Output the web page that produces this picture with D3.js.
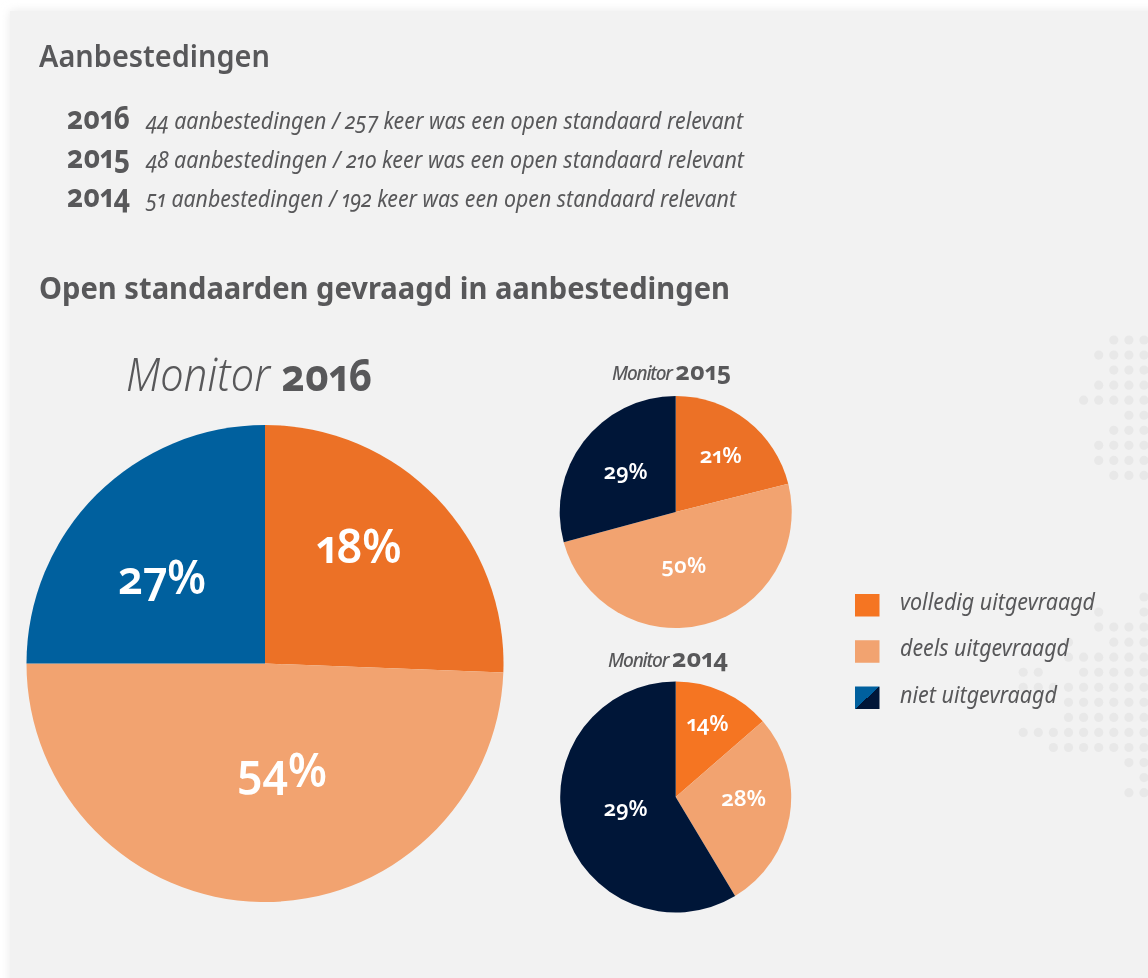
<!DOCTYPE html>
<html><head><meta charset="utf-8">
<script src="https://cdn.jsdelivr.net/npm/d3@7/dist/d3.min.js"></script>
<style>
html,body{margin:0;padding:0;background:#fff;overflow:hidden}
svg{display:block}
text{font-family:"Noto Sans",Lato,sans-serif;font-feature-settings:"onum","pnum";fill:#58585a}
</style></head><body><svg id="c" width="1148" height="978"></svg>
<script>
const categories = ["volledig uitgevraagd","deels uitgevraagd","niet uitgevraagd"];
const share2016 = [25.6,49.4,25.0];
const share2015 = [21.1,49.7,29.2];
const share2014 = [13.6,27.8,58.6];
const labels2016 = ["18%","54%","27%"];
const labels2015 = ["21%","50%","29%"];
const labels2014 = ["14%","28%","29%"];
const tenderYears = ["2016","2015","2014"];
const tenderText = ["44 aanbestedingen / 257 keer was een open standaard relevant","48 aanbestedingen / 210 keer was een open standaard relevant","51 aanbestedingen / 192 keer was een open standaard relevant"];
const dotRowsTop = [[5,6,7],[4,5,6,7],[5,6,7],[4,5,6,7],[3,4,5,6,7],[6,7],[5,6,7],[4,5,6,7],[4,5,6,7],[5,6,7]];
const dotRowsBottom = [[7],[4,7],[4,5,6,7],[2,5,6,7],[2,3,4,5,6,7],[-1,0,3,4,5,6,7],[-1,0,1,2,3,4,5,6,7],[2,3,4,5,6,7],[2,3,4,5,6,7],[-1,0,1,2,3,4,5,6,7],[1,2,3,4,5,6,7],[6,7],[7],[6,7]];

const svg = d3.select("#c");
const defs = svg.append("defs");
const f = defs.append("filter").attr("id","sh").attr("x","-5%").attr("y","-5%").attr("width","110%").attr("height","110%");
f.append("feGaussianBlur").attr("stdDeviation",5);
const soft = defs.append("filter").attr("id","soft");
soft.append("feGaussianBlur").attr("stdDeviation",0.35);
const g = defs.append("linearGradient").attr("id","split").attr("x1","0").attr("y1","0").attr("x2","1").attr("y2","1");
g.append("stop").attr("offset","50%").attr("stop-color","#02609e");
g.append("stop").attr("offset","50%").attr("stop-color","#001639");

svg.append("rect").attr("x",10).attr("y",11).attr("width",1300).attr("height",1200).attr("fill","#e9e9e9").attr("filter","url(#sh)");
svg.append("rect").attr("x",10).attr("y",11).attr("width",1138).attr("height",967).attr("fill","#f2f2f2");

// decorative dot map
const rowY = d3.scaleLinear().domain([0,1]).range([0,15.05]);
const colX = d3.scaleLinear().domain([7,0]).range([1144,1038.3]);
const dots = svg.append("g").attr("fill","#e8e8e8");
function dotBlock(rows,y0){rows.forEach((cols,i)=>cols.forEach(c=>{
  dots.append("circle").attr("cx",colX(c)).attr("cy",y0+rowY(i)).attr("r",4.6);
}));}
dotBlock(dotRowsTop,340);
dotBlock(dotRowsBottom,597);

const root = svg.append("g").attr("filter","url(#soft)");
function fit(sel,w){return sel.attr("textLength",w).attr("lengthAdjust","spacingAndGlyphs");}
function txt(x,y,s,size,weight,style,w){
  const t=root.append("text").attr("x",x).attr("y",y).text(s).attr("font-size",size).attr("font-weight",weight).attr("font-style",style||"normal");
  if(w) fit(t,w);
  return t;
}
function header(x,y,yr,w,mSize,mWeight,mTrack,ySize){
  const t=root.append("text").attr("x",x).attr("y",y);
  t.append("tspan").text("Monitor ").attr("font-size",mSize).attr("font-weight",mWeight).attr("font-style","italic").attr("letter-spacing",mTrack);
  t.append("tspan").text(yr).attr("font-size",ySize).attr("font-weight",700);
  fit(t,w);
}
txt(39,67,"Aanbestedingen",30,600,null,231);
txt(39,299,"Open standaarden gevraagd in aanbestedingen",30,700,null,691);
const rowBase = d3.scalePoint().domain(tenderYears).range([129,207]);
const rowW=[597,598,590];
const yearW=[63,63,63];
tenderYears.forEach((yr,i)=>{
  txt(67,rowBase(yr),yr,32,700,null,yearW[i]);
  txt(146,rowBase(yr),tenderText[i],24,400,"italic",rowW[i]);
});
header(126,391,"2016",246,45,300,0.2,44);
header(612,380,"2015",119,19,500,-1.2,25);
header(608,667,"2014",120,19,500,-1.2,25);

const fills2016=["#ec7125","#f2a36f","#02609e"];
const fills2015=["#ec7125","#f2a36f","#001639"];
const fills2014=["#f57423","#f2a36f","#001639"];
function drawPie(values,labels,fills,cx,cy,r,offs,fs,lw){
  const arcs=d3.pie().sort(null)(values);
  const arc=d3.arc().innerRadius(0).outerRadius(r);
  const p=root.append("g").attr("transform",`translate(${cx},${cy})`);
  p.selectAll("path").data(arcs).join("path").attr("d",arc).attr("fill",(d,i)=>fills[i]);
  labels.forEach((l,i)=>{
    const t=p.append("text").attr("x",offs[i][0]-lw[i]/2).attr("y",offs[i][1]+fs*0.36).text(l)
      .attr("font-size",fs).attr("font-weight",600).style("fill","#fff");
    fit(t,lw[i]);
  });
}
drawPie(share2016,labels2016,fills2016,265,663.5,238.5,[[94,-117],[17,107],[-103,-86]],46,[85,90,88]);
drawPie(share2015,labels2015,fills2015,675.7,512,116,[[45,-57],[8,53],[-50,-41]],21,[42,45,44]);
drawPie(share2014,labels2014,fills2014,675.7,797,115.5,[[32,-74],[68,1],[-50,11]],21,[42,45,44]);

const legY=d3.scalePoint().domain(categories).range([594,686.5]);
const legF=["#f57423","#f2a36f","url(#split)"];
const legW=[195,169,157];
categories.forEach((c,i)=>{
  root.append("rect").attr("x",855).attr("y",legY(c)).attr("width",24.5).attr("height",22.5).attr("fill",legF[i]);
  txt(900,legY(c)+16,c,24,400,"italic",legW[i]);
});
</script></body></html>
